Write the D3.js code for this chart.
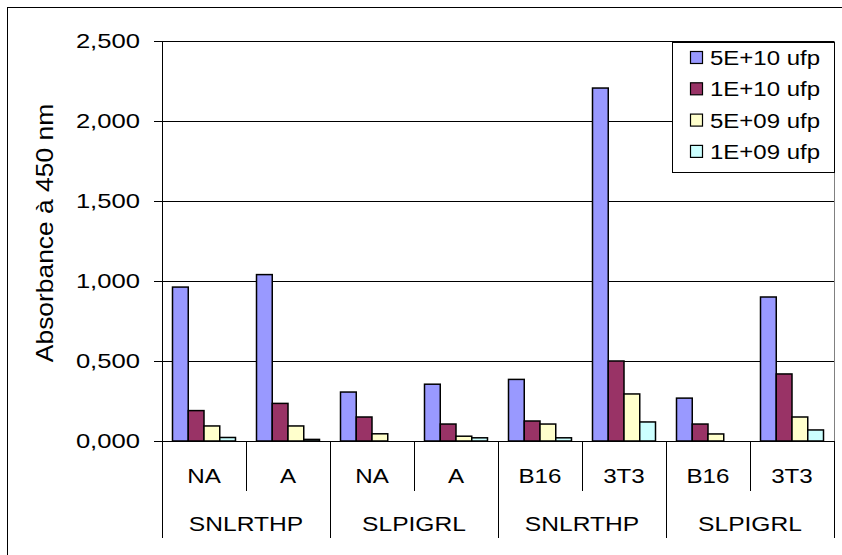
<!doctype html>
<html>
<head>
<meta charset="utf-8">
<script src="https://d3js.org/d3.v7.min.js"></script>
<style>
  body { margin: 0; background: #fff; }
  svg { font-family: "Liberation Sans", Arial, sans-serif; }
</style>
</head>
<body>
<svg width="842" height="555"></svg>
<script>
// data
var categories = ["NA", "A", "NA", "A", "B16", "3T3", "B16", "3T3"];
var groups = ["SNLRTHP", "SLPIGRL", "SNLRTHP", "SLPIGRL"];
var seriesNames = ["5E+10 ufp", "1E+10 ufp", "5E+09 ufp", "1E+09 ufp"];
var s5e10 = [0.962, 1.040, 0.306, 0.355, 0.385, 2.206, 0.268, 0.900];
var s1e10 = [0.190, 0.235, 0.150, 0.106, 0.125, 0.500, 0.106, 0.419];
var s5e09 = [0.094, 0.094, 0.045, 0.030, 0.106, 0.294, 0.044, 0.150];
var s1e09 = [0.022, 0.010, 0.000, 0.020, 0.020, 0.119, 0.000, 0.069];
var yTicks = [0, 0.5, 1, 1.5, 2, 2.5];
var colors = ["#9999ff", "#993366", "#ffffcc", "#ccffff"];

var allSeries = [s5e10, s1e10, s5e09, s1e09];

var svg = d3.select("svg"),
    plotLeft = 162, plotRight = 834, plotTop = 41, plotBottom = 441;

var fr = d3.formatLocale({decimal: ",", thousands: ".", grouping: [3], currency: ["", ""]});
var fmt = fr.format(".3f");

// the original text is drawn a bit wider than Arial
function stretch(sel, k) {
    sel.each(function() {
        var w = this.getComputedTextLength();
        d3.select(this).attr("textLength", w * k).attr("lengthAdjust", "spacingAndGlyphs");
    });
}

// outer chart border
svg.append("rect")
   .attr("x", 7.5).attr("y", 7.5)
   .attr("width", 900).attr("height", 600)
   .attr("fill", "none").attr("stroke", "#000").attr("stroke-width", 1);

var x = d3.scaleBand().domain(d3.range(categories.length)).range([plotLeft, plotRight]);
var xInner = d3.scaleBand().domain(d3.range(seriesNames.length))
    .range([x.bandwidth() * 0.125, x.bandwidth() * 0.875]);
var y = d3.scaleLinear().domain([0, 2.5]).range([plotBottom, plotTop]);

// grid lines
svg.append("g")
   .attr("transform", "translate(" + plotLeft + ",0)")
   .call(d3.axisLeft(y).tickValues(yTicks).tickSize(-(plotRight - plotLeft)).tickFormat(""))
   .call(function(g) {
       g.select(".domain").remove();
       g.selectAll("line").attr("stroke", "#000").attr("stroke-width", 1);
   });

// right border of plot area
svg.append("line")
   .attr("x1", plotRight + 0.5).attr("x2", plotRight + 0.5)
   .attr("y1", plotTop).attr("y2", plotBottom)
   .attr("stroke", "#808080");

// bars
allSeries.forEach(function(vals, si) {
    svg.append("g").selectAll("rect")
       .data(vals)
       .enter().append("rect")
       .attr("x", function(d, i) { return x(i) + xInner(si); })
       .attr("y", function(d) { return y(d); })
       .attr("width", xInner.bandwidth())
       .attr("height", function(d) { return plotBottom - y(d); })
       .attr("fill", colors[si])
       .attr("stroke", function(d) { return d > 0 ? "#000" : "none"; })
       .attr("stroke-width", 1.5);
});

// y axis
var yAxis = svg.append("g")
   .attr("transform", "translate(" + plotLeft + ",0)")
   .call(d3.axisLeft(y).tickValues(yTicks).tickSize(8).tickPadding(14).tickFormat(fmt));
yAxis.selectAll("text").attr("font-size", 21).attr("fill", "#000")
   .attr("font-family", "Liberation Sans, Arial, sans-serif")
   .call(stretch, 1.22);
yAxis.selectAll("line, path").attr("stroke", "#000");

// x baseline
svg.append("line")
   .attr("x1", plotLeft - 8).attr("x2", plotRight)
   .attr("y1", plotBottom + 0.5).attr("y2", plotBottom + 0.5)
   .attr("stroke", "#000");

// category separators and labels
var catG = svg.append("g");
d3.range(categories.length + 1).forEach(function(i) {
    var xx = (i < categories.length ? x(i) : plotRight);
    catG.append("line")
        .attr("x1", xx + 0.5).attr("x2", xx + 0.5)
        .attr("y1", plotBottom).attr("y2", i % 2 === 0 ? 538 : 491)
        .attr("stroke", "#000");
});
catG.selectAll("text.cat")
    .data(categories)
    .enter().append("text")
    .attr("class", "cat")
    .attr("x", function(d, i) { return x(i) + x.bandwidth() / 2; })
    .attr("y", 483)
    .attr("text-anchor", "middle")
    .attr("font-size", 21)
    .text(function(d) { return d; })
    .call(stretch, 1.15);
catG.selectAll("text.grp")
    .data(groups)
    .enter().append("text")
    .attr("class", "grp")
    .attr("x", function(d, i) { return x(i * 2) + x.bandwidth(); })
    .attr("y", 531)
    .attr("text-anchor", "middle")
    .attr("font-size", 21)
    .text(function(d) { return d; })
    .call(stretch, 1.17);

// y title
svg.append("text")
   .attr("transform", "translate(53,233) rotate(-90)")
   .attr("text-anchor", "middle")
   .attr("font-size", 24)
   .text("Absorbance à 450 nm")
   .call(stretch, 1.1);

// legend
var lg = svg.append("g").attr("transform", "translate(672,42)");
lg.append("rect")
  .attr("x", 0.5).attr("y", 0.5).attr("width", 162).attr("height", 130)
  .attr("fill", "#fff").attr("stroke", "#000");
seriesNames.forEach(function(name, i) {
    var cy = 16 + i * 31.3;
    lg.append("rect")
      .attr("x", 18.5).attr("y", cy - 6.5).attr("width", 12).attr("height", 12)
      .attr("fill", colors[i]).attr("stroke", "#000").attr("stroke-width", 1.2);
    lg.append("text")
      .attr("x", 38).attr("y", cy + 7)
      .attr("font-size", 20)
      .text(name)
      .call(stretch, 1.2);
});
</script>
</body>
</html>
